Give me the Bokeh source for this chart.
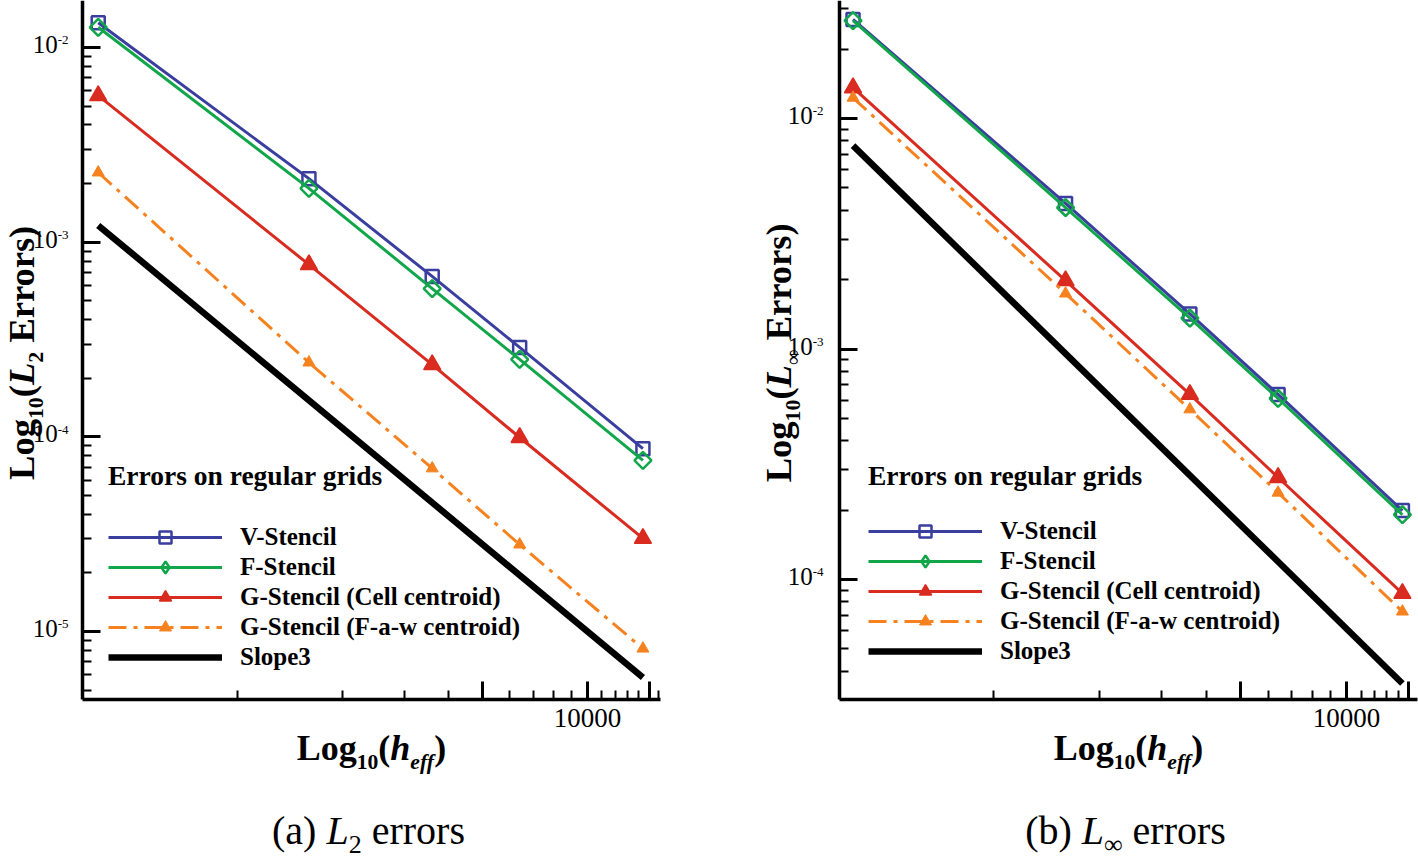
import math
from bokeh.plotting import figure
from bokeh.models import (Label, Legend, LegendItem, FixedTicker, Range1d,
                          BasicTickFormatter)
from bokeh.layouts import row
from bokeh.embed import file_html
from bokeh.resources import INLINE

# ---------------- data ----------------
heff = [400, 1600, 3600, 6400, 14400]
slope_x = [400, 14400]

l2_v = [1.34e-2, 2.12e-3, 6.67e-4, 2.88e-4, 8.7e-5]
l2_f = [1.27e-2, 1.89e-3, 5.78e-4, 2.50e-4, 7.57e-5]
l2_gc = [5.66e-3, 7.67e-4, 2.35e-4, 9.93e-5, 3.01e-5]
l2_gf = [2.28e-3, 2.41e-4, 6.89e-5, 2.80e-5, 8.18e-6]
l2_slope = [1.22e-3, 5.81e-6]

linf_v = [2.69e-2, 4.28e-3, 1.42e-3, 6.35e-4, 1.99e-4]
linf_f = [2.66e-2, 4.11e-3, 1.36e-3, 6.10e-4, 1.91e-4]
linf_gc = [1.36e-2, 1.98e-3, 6.35e-4, 2.77e-4, 8.70e-5]
linf_gf = [1.23e-2, 1.74e-3, 5.47e-4, 2.38e-4, 7.26e-5]
linf_slope = [7.63e-3, 3.54e-5]

series_names = ["V-Stencil", "F-Stencil", "G-Stencil (Cell centroid)",
                "G-Stencil (F-a-w centroid)", "Slope3"]
legend_title = "Errors on regular grids"
x_tick_label = "10000"
y_major_ticks = [1e-5, 1e-4, 1e-3, 1e-2]

# ---------------- styles ----------------
FONT = "Liberation Serif"
BLUE = "#3A3E9E"
GREEN = "#12A64B"
RED = "#D92B1F"
ORANGE = "#F5821F"
K = 0.4  # empirical baseline correction (fraction of font size)

W = {
    "bold": {" ": 250, "(": 333, ")": 333, "-": 333, "E": 667, "F": 611, "G": 778,
             "L": 667, "S": 556, "V": 722, "a": 500, "c": 444, "d": 556, "e": 444,
             "f": 333, "g": 500, "h": 556, "i": 278, "l": 278, "n": 556, "o": 500,
             "p": 556, "r": 444, "s": 389, "t": 333, "u": 556, "w": 722},
    "bold italic": {"L": 611, "h": 556, "e": 444, "f": 333},
    "normal": {" ": 250, "(": 333, ")": 333, "-": 333, "a": 444, "b": 500, "e": 444,
               "o": 500, "r": 333, "s": 389, "∞": 713},
    "italic": {"L": 556},
}


def seg_w(text, style, size):
    return sum(W[style].get(c, 500) for c in text) / 1000.0 * size


def rich(fig, segs, center, base, vertical=False):
    total = sum(seg_w(t, st, sz) for t, st, sz, sh in segs)
    pos = center - total / 2.0
    for t, st, sz, sh in segs:
        stripped = t.lstrip(" ")
        lead = seg_w(t[:len(t) - len(stripped)], st, sz)
        kw = dict(text=stripped.rstrip(" "), text_font=FONT, text_font_style=st,
                  text_font_size=f"{sz}px", text_color="black",
                  text_align="left", text_baseline="alphabetic",
                  x_units="screen", y_units="screen")
        if vertical:
            lab = Label(x=base + sh - K * sz, y=pos + lead, angle=math.pi / 2, **kw)
        else:
            lab = Label(x=pos + lead, y=base - sh + K * sz, **kw)
        fig.add_layout(lab)
        pos += seg_w(t, st, sz)


FIG_H = 861


def lg_range(p0, p1, anchor_px, anchor_log, ppd, down=False):
    """data range for canvas pixels p0..p1 on a log axis"""
    s = -1 if down else 1
    a = 10 ** (anchor_log + s * (p0 - anchor_px) / ppd)
    b = 10 ** (anchor_log + s * (p1 - anchor_px) / ppd)
    return a, b


def make_plot(left, width, xcal, ycal, ax_left, ax_right, ax_bottom, data,
              title_sub, legend_loc, legend_standoff, caption_segs, ylab_gap):
    xr = lg_range(left, left + width, *xcal)
    yr = lg_range(FIG_H, 0, *ycal, down=True)
    xb = lg_range(ax_left, ax_right, *xcal)
    yb = lg_range(ax_bottom, 0, *ycal, down=True)
    p = figure(width=width, height=FIG_H, x_axis_type="log", y_axis_type="log",
               x_range=Range1d(*xr), y_range=Range1d(*yr),
               output_backend="svg", toolbar_location=None, min_border=0,
               min_border_left=0, min_border_right=0,
               min_border_top=0, min_border_bottom=0)
    p.outline_line_color = None
    p.xgrid.visible = False
    p.ygrid.visible = False
    p.background_fill_color = "white"
    p.border_fill_color = "white"

    xa, ya = p.xaxis[0], p.yaxis[0]
    xa.fixed_location = yb[0]
    xa.bounds = xb
    ya.fixed_location = xb[0]
    ya.bounds = yb
    for ax in (xa, ya):
        ax.axis_line_width = 3.5
        ax.axis_line_color = "black"
        ax.major_tick_in = 18
        ax.major_tick_out = 0
        ax.minor_tick_in = 9
        ax.minor_tick_out = 0
        ax.major_tick_line_width = 3
        ax.minor_tick_line_width = 2
        ax.major_tick_line_color = "black"
        ax.minor_tick_line_color = "black"
        ax.major_label_text_font = FONT
        ax.major_label_text_font_size = "27px"
        ax.major_label_text_color = "black"

    def inside(vals, b):
        return [t for t in vals if b[0] <= t <= b[1]]

    decades = [1e-6, 1e-5, 1e-4, 1e-3, 1e-2, 1e-1]
    yt = inside(y_major_ticks, yb)
    ya.ticker = FixedTicker(
        ticks=yt,
        minor_ticks=inside([d * k for d in decades for k in range(2, 10)], yb))
    ya.major_label_overrides = {t: "" for t in yt}

    # y tick labels "10" with raised exponent, anchored at the tick values
    sup_size, base_size = 13, 25
    for t in yt:
        e = str(int(round(math.log10(t))))
        sw = seg_w(e, "normal", sup_size)
        p.add_layout(Label(x=xb[0], y=t, text=e, text_font=FONT,
                           text_font_size=f"{sup_size}px", text_color="black",
                           text_align="right", text_baseline="alphabetic",
                           x_offset=-ylab_gap, y_offset=2 + K * sup_size))
        p.add_layout(Label(x=xb[0], y=t, text="10", text_font=FONT,
                           text_font_size=f"{base_size}px", text_color="black",
                           text_align="right", text_baseline="alphabetic",
                           x_offset=-ylab_gap - sw, y_offset=-7 + K * base_size))

    xa.ticker = FixedTicker(ticks=[5000, 10000, 15000],
                            minor_ticks=inside([k * 1000 for k in range(1, 17)], xb))
    xa.formatter = BasicTickFormatter(use_scientific=False)
    xa.major_label_overrides = {5000: "", 10000: x_tick_label, 15000: ""}
    xa.major_label_standoff = 9

    v, f, gc, gf, sl = data
    r_v = p.line(heff, v, line_color=BLUE, line_width=3)
    s_v = p.scatter(heff, v, marker="square", size=13, fill_color=None,
                    line_color=BLUE, line_width=2.5)
    r_f = p.line(heff, f, line_color=GREEN, line_width=3)
    p.scatter(heff, f, marker="square", size=12, angle=math.pi / 4,
              fill_color=None, line_color=GREEN, line_width=2.5)
    # hidden twin used only for the legend sample (diamond shape)
    s_f = p.scatter(heff, f, marker="diamond", size=16, fill_color=None,
                    line_color=GREEN, line_width=2.5, visible=False)
    r_gc = p.line(heff, gc, line_color=RED, line_width=3)
    s_gc = p.scatter(heff, gc, marker="triangle", size=17, fill_color=RED,
                     line_color=RED, line_width=1.5)
    r_gf = p.line(heff, gf, line_color=ORANGE, line_width=3, line_dash="18 7 4 7")
    s_gf = p.scatter(heff, gf, marker="triangle", size=12, fill_color=ORANGE,
                     line_color=ORANGE, line_width=1)
    r_sl = p.line(slope_x, sl, line_color="black", line_width=6.5)

    items = [LegendItem(label=series_names[0], renderers=[r_v, s_v]),
             LegendItem(label=series_names[1], renderers=[r_f, s_f]),
             LegendItem(label=series_names[2], renderers=[r_gc, s_gc]),
             LegendItem(label=series_names[3], renderers=[r_gf, s_gf]),
             LegendItem(label=series_names[4], renderers=[r_sl])]
    leg = Legend(items=items, location=legend_loc, glyph_width=114, glyph_height=30,
                 spacing=0, label_standoff=18, padding=0, margin=0,
                 border_line_color=None, background_fill_alpha=0,
                 inactive_fill_alpha=0,
                 label_text_font=FONT, label_text_font_style="bold",
                 label_text_font_size="25px", label_text_color="black",
                 title=legend_title, title_text_font=FONT,
                 title_text_font_style="bold", title_text_font_size="27.5px",
                 title_text_color="black", title_standoff=legend_standoff)
    p.add_layout(leg)

    # axis titles and caption (screen units: from canvas left / canvas bottom)
    fc = (ax_left + ax_right) / 2.0 - left
    S = 36
    sub = round(S * 0.6, 1)
    sh = round(S * 0.22, 1)
    rich(p, [("Log", "bold", S, 0), ("10", "bold", sub, sh), ("(", "bold", S, 0),
             ("h", "bold italic", S, 0), ("eff", "bold italic", sub, sh),
             (")", "bold", S, 0)], center=fc, base=FIG_H - 762)
    SY = 36.5
    rich(p, [("Log", "bold", SY, 0), ("10", "bold", round(SY * 0.6, 1), round(SY * 0.22, 1)),
             ("(", "bold", SY, 0), ("L", "bold italic", SY, 0), title_sub,
             (" Errors)", "bold", SY, 0)], center=FIG_H - 352,
         base=ax_left - 46 - left, vertical=True)
    rich(p, caption_segs, center=fc - 3, base=FIG_H - 846)
    return p


CS = 40
p1 = make_plot(0, 690, (587, 4, 350), (47, -2, 194.7), 82, 660, 699,
               (l2_v, l2_f, l2_gc, l2_gf, l2_slope),
               ("2", "bold", 22, 8),
               (108, 861 - 672), 30,
               [("(a) ", "normal", CS, 0), ("L", "italic", CS, 0),
                ("2", "normal", 26, 8), (" errors", "normal", CS, 0)], 14)
p2 = make_plot(690, 728, (1346, 4, 353), (118, -2, 230.5), 839, 1417, 699,
               (linf_v, linf_f, linf_gc, linf_gf, linf_slope),
               ("∞", "normal", 22, 8),
               (868 - 690, 861 - 666), 24,
               [("(b) ", "normal", CS, 0), ("L", "italic", CS, 0),
                ("∞", "normal", 26, 8), (" errors", "normal", CS, 0)], 16)

layout = row(p1, p2)
open("out.html", "w").write(file_html(layout, INLINE))
